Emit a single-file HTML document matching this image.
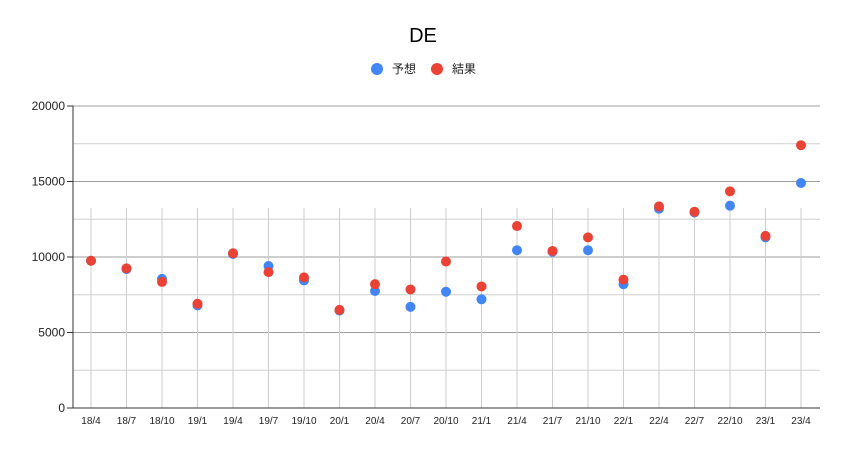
<!DOCTYPE html>
<html><head><meta charset="utf-8"><style>
body{margin:0;background:#fff;font-family:"Liberation Sans","Noto Sans CJK JP",sans-serif}
</style></head><body>
<svg id="chart" width="847" height="458" xmlns="http://www.w3.org/2000/svg" font-family="Liberation Sans, Noto Sans CJK JP, sans-serif">
<rect width="847" height="458" fill="#fff"/>
<text x="423" y="42" text-anchor="middle" font-size="20" fill="#000">DE</text>
<g>
<circle cx="377" cy="69" r="6" fill="#4285f4"/>
<text x="392" y="73" font-size="12" fill="#222">予想</text>
<circle cx="437" cy="69" r="6" fill="#ea4335"/>
<text x="452" y="73" font-size="12" fill="#222">結果</text>
</g>
<g id="grid"></g><g id="vgrid"></g><g id="axes"></g><g id="pts"></g>
</svg>
<script>
const categories=["18/4","18/7","18/10","19/1","19/4","19/7","19/10","20/1","20/4","20/7","20/10","21/1","21/4","21/7","21/10","22/1","22/4","22/7","22/10","23/1","23/4"];
const forecast=[9750,9200,8550,6800,10200,9400,8450,6450,7750,6700,7700,7200,10450,10350,10450,8200,13200,12950,13400,11300,14900];
const result=[9750,9250,8350,6900,10250,9000,8650,6500,8200,7850,9700,8050,12050,10400,11300,8500,13350,13000,14350,11400,17400];
const yTicks=[0,5000,10000,15000,20000];
const NS="http://www.w3.org/2000/svg";
const x0=73,x1=820,y0=408,y1=106,yMax=20000;
const y=v=>y0-(v/yMax)*(y0-y1);
const x=i=>91+i*(801-91)/(categories.length-1);
function mk(t,a,p){const e=document.createElementNS(NS,t);for(const k in a)e.setAttribute(k,a[k]);p.appendChild(e);return e;}
const grid=document.getElementById('grid'),vg=document.getElementById('vgrid'),ax=document.getElementById('axes'),pts=document.getElementById('pts');
for(let v=2500;v<=yMax;v+=2500){
 const major=v%5000===0;
 const l=mk('line',{x1:x0,x2:x1,y1:y(v),y2:y(v),stroke:major?'#9e9e9e':'#cfcfcf','stroke-width':1},grid);
 
 
}
yTicks.forEach(v=>{
 const t=mk('line',{x1:x0-6,x2:x0,y1:y(v),y2:y(v),stroke:'#333'},ax);
 
 
 const tx=mk('text',{x:x0-8,y:y(v)+4,'text-anchor':'end','font-size':12,fill:'#222'},ax);
 tx.textContent=v;
 
 
});
categories.forEach((c,i)=>{
 const l=mk('line',{x1:x(i),x2:x(i),y1:208,y2:y0,stroke:'#cccccc'},vg);
 
 
 const t=mk('text',{x:x(i),y:424,'text-anchor':'middle','font-size':10,fill:'#222'},ax);
 t.textContent=c;
 
 
});
const ya=mk('line',{x1:x0,x2:x0,y1:y1,y2:y0,stroke:'#333'},ax);


const xa=mk('line',{x1:x0,x2:x1,y1:y0,y2:y0,stroke:'#333'},ax);


forecast.forEach((v,i)=>{
 const c=mk('circle',{cx:x(i),cy:y(v),r:5,fill:'#4285f4'},pts);
 
 
});
result.forEach((v,i)=>{
 const c=mk('circle',{cx:x(i),cy:y(v),r:5,fill:'#ea4335'},pts);
 
 
});
</script>
</body></html>
